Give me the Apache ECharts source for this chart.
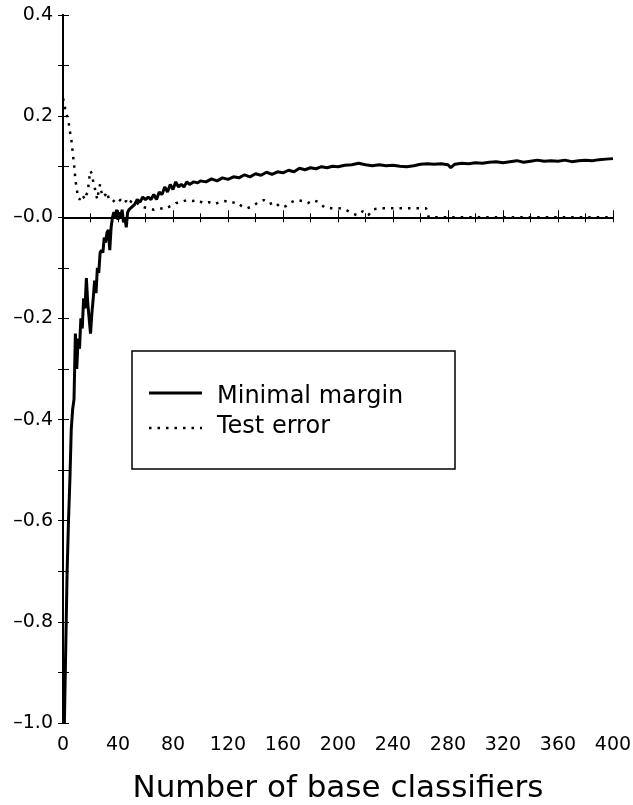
<!DOCTYPE html>
<html>
<head>
<meta charset="utf-8">
<script src="https://cdn.jsdelivr.net/npm/echarts@6/dist/echarts.min.js"></script>
<style>
  html, body { margin: 0; padding: 0; background: #fff; }
  #main { width: 633px; height: 805px; }
</style>
</head>
<body>
<div id="main"></div>
<script>
var marginX = [1, 2, 3, 4, 5, 6, 7, 8, 9, 10, 11, 12, 13, 14, 15, 16, 17, 18, 19, 20,
    21, 22, 23, 24, 25, 26, 27, 28, 29, 30, 31, 32, 33, 34, 35, 36, 37, 38, 39, 40,
    41, 42, 43, 44, 45, 46, 47, 48, 50, 52, 54, 56, 58, 60, 62, 64, 66, 68, 70, 72, 74,
    76, 78, 80, 82, 84, 86, 88, 90, 92, 95, 98, 100, 104, 108, 112, 116, 120, 124, 128, 132,
    136, 140, 144, 148, 152, 156, 160, 164, 168, 172, 176, 180, 184, 188, 192, 196, 200, 205, 210, 215,
    220, 225, 230, 235, 240, 245, 250, 255, 260, 265, 270, 275, 280, 282, 285, 290, 295, 300, 305, 310,
    315, 320, 325, 330, 335, 340, 345, 350, 355, 360, 365, 370, 375, 380, 385, 390, 395, 400];
var marginY = [-1.0, -0.85, -0.7, -0.6, -0.52, -0.42, -0.38, -0.36, -0.23, -0.3, -0.24, -0.26, -0.2, -0.22, -0.16, -0.18, -0.12, -0.17, -0.2, -0.23,
    -0.19, -0.16, -0.125, -0.15, -0.1, -0.11, -0.07, -0.065, -0.07, -0.04, -0.05, -0.03, -0.025, -0.065, -0.02, 0.0, 0.01, 0.0, 0.015, -0.005,
    0.01, 0.0, 0.015, -0.01, 0.0, -0.02, 0.01, 0.015, 0.02, 0.025, 0.035, 0.03, 0.04, 0.035, 0.04, 0.035, 0.045, 0.035, 0.05, 0.045, 0.06,
    0.05, 0.065, 0.055, 0.07, 0.06, 0.065, 0.06, 0.07, 0.065, 0.07, 0.068, 0.072, 0.07, 0.076, 0.072, 0.078, 0.075, 0.08, 0.078, 0.084,
    0.08, 0.086, 0.083, 0.089, 0.085, 0.09, 0.088, 0.093, 0.09, 0.097, 0.094, 0.098, 0.096, 0.1, 0.098, 0.101, 0.1, 0.103, 0.104, 0.107,
    0.104, 0.102, 0.104, 0.102, 0.103, 0.101, 0.1, 0.102, 0.105, 0.106, 0.105, 0.106, 0.104, 0.098, 0.105, 0.107, 0.106, 0.108, 0.107, 0.109,
    0.11, 0.108, 0.11, 0.112, 0.109, 0.111, 0.113, 0.111, 0.112, 0.111, 0.113, 0.11, 0.112, 0.113, 0.112, 0.114, 0.115, 0.116];

var errorX = [0, 1, 2, 3, 4, 5, 6, 7, 8, 9, 10, 11, 12, 13, 14, 15, 16, 17, 18, 19,
    20, 21, 22, 23, 24, 25, 26, 27, 28, 29, 30, 31, 32, 33, 34, 36, 38, 40, 42, 44,
    46, 48, 50, 54, 58, 62, 66, 70, 74, 78, 82, 86, 90, 94, 98, 102, 106, 110, 114, 118,
    122, 126, 130, 134, 138, 142, 146, 150, 154, 158, 162, 166, 170, 174, 178, 182, 186, 190, 195, 200,
    205, 210, 214, 218, 222, 226, 232, 240, 248, 256, 264, 266, 300, 340, 400];
var errorY = [0.235, 0.225, 0.205, 0.2, 0.19, 0.17, 0.155, 0.13, 0.105, 0.075, 0.055, 0.04, 0.035, 0.04, 0.045, 0.04, 0.035, 0.045, 0.05, 0.075,
    0.092, 0.085, 0.07, 0.06, 0.045, 0.035, 0.055, 0.065, 0.05, 0.04, 0.04, 0.045, 0.05, 0.04, 0.035, 0.03, 0.035, 0.03, 0.035, 0.028,
    0.032, 0.025, 0.034, 0.028, 0.02, 0.018, 0.015, 0.018, 0.016, 0.022, 0.028, 0.03, 0.034, 0.032, 0.034, 0.028, 0.03, 0.026, 0.03, 0.032,
    0.028, 0.03, 0.022, 0.018, 0.022, 0.03, 0.034, 0.026, 0.03, 0.02, 0.022, 0.03, 0.034, 0.032, 0.028, 0.034, 0.03, 0.02, 0.018, 0.018,
    0.016, 0.008, 0.004, 0.012, 0.004, 0.016, 0.018, 0.018, 0.018, 0.018, 0.018, 0.0, 0.0, 0.0, 0.0];

var seriesNames = ['Minimal margin', 'Test error'];

function pairs(xs, ys) {
    return xs.map(function (x, i) { return [x, ys[i]]; });
}

var chartDom = document.getElementById('main');
var myChart = echarts.init(chartDom, null, { renderer: 'canvas' });
var font = 'DejaVu Sans';

var option = {
    animation: false,
    backgroundColor: '#fff',
    grid: { left: 63, right: 20, top: 15, bottom: 82, outerBoundsMode: 'none', containLabel: false },
    // legend box drawn by hand so the line samples have no symbol
    graphic: [
        { type: 'rect', shape: { x: 132, y: 351, width: 323, height: 118 },
          style: { fill: '#fff', stroke: '#000', lineWidth: 1.5 }, z: 10 },
        { type: 'line', shape: { x1: 149, y1: 393, x2: 202, y2: 393 },
          style: { stroke: '#000', lineWidth: 3 }, z: 11 },
        { type: 'line', shape: { x1: 149, y1: 428, x2: 202, y2: 428 },
          style: { stroke: '#000', lineWidth: 2.5, lineDash: [2.5, 6] }, z: 11 },
        { type: 'text', x: 217, y: 397, z: 11,
          style: { text: seriesNames[0], font: '24px "DejaVu Sans"', fill: '#000', verticalAlign: 'middle' } },
        { type: 'text', x: 217, y: 427, z: 11,
          style: { text: seriesNames[1], font: '24px "DejaVu Sans"', fill: '#000', verticalAlign: 'middle' } }
    ],
    xAxis: [{
        type: 'value',
        min: 0,
        max: 400,
        interval: 40,
        position: 'bottom',
        splitLine: { show: false },
        axisLine: { lineStyle: { color: '#000', width: 2 } },
        axisTick: { inside: true, length: 7, lineStyle: { color: '#000' } },
        minorTick: { show: true, splitNumber: 2, length: 4, lineStyle: { color: '#000' } },
        axisLabel: { fontFamily: font, fontSize: 19, color: '#000', margin: 13 },
        name: 'Number of base classifiers',
        nameLocation: 'middle',
        nameGap: 50,
        nameTextStyle: { fontFamily: font, fontSize: 31, color: '#000' }
    }, {
        type: 'value',
        min: 0,
        max: 400,
        interval: 20,
        position: 'top',
        splitLine: { show: false },
        axisLine: { lineStyle: { color: '#000', width: 2 } },
        axisTick: { inside: true, length: 5, lineStyle: { color: '#000' } },
        axisLabel: { show: false }
    }],
    yAxis: [{
        type: 'value',
        min: -1,
        max: 0.4,
        interval: 0.2,
        position: 'left',
        splitLine: { show: false },
        axisLine: { lineStyle: { color: '#000', width: 2 } },
        axisTick: { inside: true, length: 6, lineStyle: { color: '#000' } },
        minorTick: { show: true, splitNumber: 2, length: 6, lineStyle: { color: '#000' } },
        axisLabel: {
            fontFamily: font,
            fontSize: 19,
            color: '#000',
            margin: 10,
            formatter: function (v) {
                var r = Math.round(v * 10) / 10;
                if (r <= 0) return '\u2013' + Math.abs(r).toFixed(1);
                return r.toFixed(1);
            }
        }
    }, {
        type: 'value',
        min: -1,
        max: 0.4,
        interval: 0.1,
        position: 'right',
        splitLine: { show: false },
        axisLine: { lineStyle: { color: '#000', width: 2 } },
        axisTick: { inside: true, length: 5, lineStyle: { color: '#000' } },
        axisLabel: { show: false }
    }],
    series: [{
        name: seriesNames[0],
        type: 'line',
        symbol: 'none',
        lineStyle: { color: '#000', width: 3 },
        itemStyle: { color: '#000' },
        data: pairs(marginX, marginY),
        markLine: {
            silent: true,
            symbol: 'none',
            label: { show: false },
            lineStyle: { color: '#000', width: 1, type: 'solid' },
            data: [{ yAxis: 0 }]
        },
        z: 3
    }, {
        name: seriesNames[1],
        type: 'line',
        symbol: 'none',
        lineStyle: { color: '#000', width: 2.5, type: [2.5, 6] },
        itemStyle: { color: '#000' },
        data: pairs(errorX, errorY),
        z: 2
    }]
};

option && myChart.setOption(option);
</script>
</body>
</html>
